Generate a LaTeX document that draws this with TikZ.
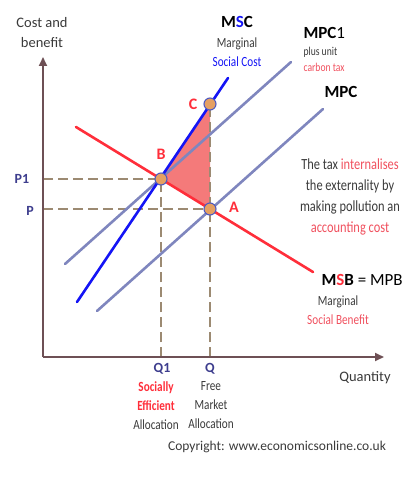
\documentclass[tikz,border=0pt]{standalone}
\usepackage{fontspec}
\setmainfont{Carlito}
\newfontfamily\narrowfont{Carlito}[FakeStretch=0.8]
\usepackage{xcolor}
\usepackage{tikz}
\usetikzlibrary{arrows.meta, positioning}

\definecolor{axisbrown}{HTML}{6E5055}
\definecolor{guidetan}{HTML}{9C8A72}
\definecolor{mscblue}{HTML}{1414F5}
\definecolor{mpcblue}{HTML}{7F86BE}
\definecolor{msbred}{HTML}{FF2E3A}
\definecolor{wedgered}{HTML}{F47A7A}
\definecolor{dotorange}{HTML}{E5A062}
\definecolor{dotblue}{HTML}{4F5BC0}
\definecolor{textgrey}{HTML}{3A3A3A}
\definecolor{labelblue}{HTML}{3E3E8E}
\definecolor{notered}{HTML}{F0505E}

\begin{document}
\begin{tikzpicture}[
    x=1pt, y=-1pt,
    axis/.style={-{Triangle[length=9pt, width=8pt]}, draw=axisbrown, line width=1.8pt},
    guide/.style={draw=guidetan, line width=1.4pt, dash pattern=on 10pt off 5pt},
    privcost/.style={draw=mpcblue, line width=2.6pt, line cap=round},
    soccost/.style={draw=mscblue, line width=2.6pt, line cap=round},
    benefit/.style={draw=msbred, line width=2.6pt, line cap=round},
    dot/.style={circle, draw=dotblue, fill=dotorange, line width=1.1pt, inner sep=0pt, minimum size=12pt},
    ptlabel/.style={text=msbred, font=\bfseries\fontsize{16}{16}\selectfont},
    axlabel/.style={text=labelblue, font=\bfseries\fontsize{14}{14}\selectfont},
    curvename/.style={text=black, font=\bfseries\fontsize{17}{17}\selectfont},
    axname/.style={text=textgrey, align=center, font=\fontsize{14.5}{20}\selectfont},
    note/.style={text=textgrey, align=center, font=\narrowfont\fontsize{14}{19}\selectfont},
    small/.style={text=textgrey, align=left, font=\narrowfont\fontsize{12}{16}\selectfont}
]

    % Frame of the picture
    \useasboundingbox (0,0) rectangle (414,484);

    % Points of the diagram
    \coordinate (O) at (43,357);
    \coordinate (ytip) at (43,57);
    \coordinate (xtip) at (384,357);
    \coordinate (B) at (161,179);
    \coordinate (A) at (210,209);
    \coordinate (C) at (210,104);
    \coordinate (p1) at (43,179);
    \coordinate (p0) at (43,209);
    \coordinate (q1) at (161,357);
    \coordinate (q0) at (210,357);

    % Ends of the curves
    \coordinate (msc-lo) at (77,302);
    \coordinate (msc-hi) at (228,78);
    \coordinate (mpcone-lo) at (65,264);
    \coordinate (mpcone-hi) at (291,62);
    \coordinate (mpc-lo) at (97,311);
    \coordinate (mpc-hi) at (323,109);
    \coordinate (msb-hi) at (76,127);
    \coordinate (msb-lo) at (313,272);

    % 1. Welfare loss triangle
    \fill[wedgered] (B) -- (C) -- (A) -- cycle;

    % 2. Dashed guides
    \draw[guide] (p1) -- (B);
    \draw[guide] (p0) -- (A);
    \draw[guide] (q1) -- (B);
    \draw[guide] (q0) -- (C);

    % 3. Axes
    \draw[axis] (O) -- (ytip);
    \draw[axis] (O) -- (xtip);

    % 4. Curves
    \draw[privcost] (mpcone-lo) -- (mpcone-hi);
    \draw[privcost] (mpc-lo) -- (mpc-hi);
    \draw[benefit] (msb-hi) -- (msb-lo);
    \draw[soccost] (msc-lo) -- (msc-hi);

    % 5. Points
    \node[dot] (dotB) at (B) {};
    \node[dot] (dotA) at (A) {};
    \node[dot] (dotC) at (C) {};
    \node[ptlabel] (labB) at (161,154) {B};
    \node[ptlabel] (labC) at (193,104) {C};
    \node[ptlabel] (labA) at (234,207) {A};

    % 6. Axis labels
    \node[axname] (yname) at (42,33) {Cost and\\benefit};
    \node[axname] (xname) at (365,378) {Quantity};
    \node[axlabel] (P1) at (22,179) {P1};
    \node[axlabel] (P0) at (30,211) {P};
    \node[axlabel] (Q1) at (162,369) {Q1};
    \node[axlabel] (Q0) at (210,369) {Q};
    \node[note, anchor=north] (q1text) at (156,378)
        {\textcolor{msbred}{\bfseries Socially}\\\textcolor{msbred}{\bfseries Efficient}\\Allocation};
    \node[note, anchor=north] (q0text) at (211,378) {Free\\Market\\Allocation};

    % 7. Curve names
    \node[curvename] (mscname) at (237,22) {M\textcolor{mscblue}{S}C};
    \node[note, anchor=north] (mscdesc) at (237,34) {Marginal\\\textcolor{mscblue}{Social Cost}};
    \node[curvename, anchor=west] (mpconename) at (300,33) {MPC\mdseries 1};
    \node[small, anchor=north west] (mpconedesc) at (300,44) {plus unit\\\textcolor{notered}{carbon tax}};
    \node[curvename] (mpcname) at (341,92) {MPC};
    \node[curvename, anchor=west] (msbname) at (318,280) {M\textcolor{msbred}{S}B\mdseries{} = MPB};
    \node[note, anchor=north] (msbdesc) at (338,292) {Marginal\\\textcolor{notered}{Social Benefit}};

    % 8. Comment on the tax
    \node[note, font=\narrowfont\fontsize{15.5}{21}\selectfont] (taxnote) at (350,197)
        {The tax \textcolor{notered}{internalises}\\the externality by\\making pollution an\\\textcolor{notered}{accounting cost}};

    % 9. Source
    \node[axname, font=\fontsize{13.5}{15}\selectfont] (source) at (277,447)
        {Copyright: www.economicsonline.co.uk};

\end{tikzpicture}
\end{document}
